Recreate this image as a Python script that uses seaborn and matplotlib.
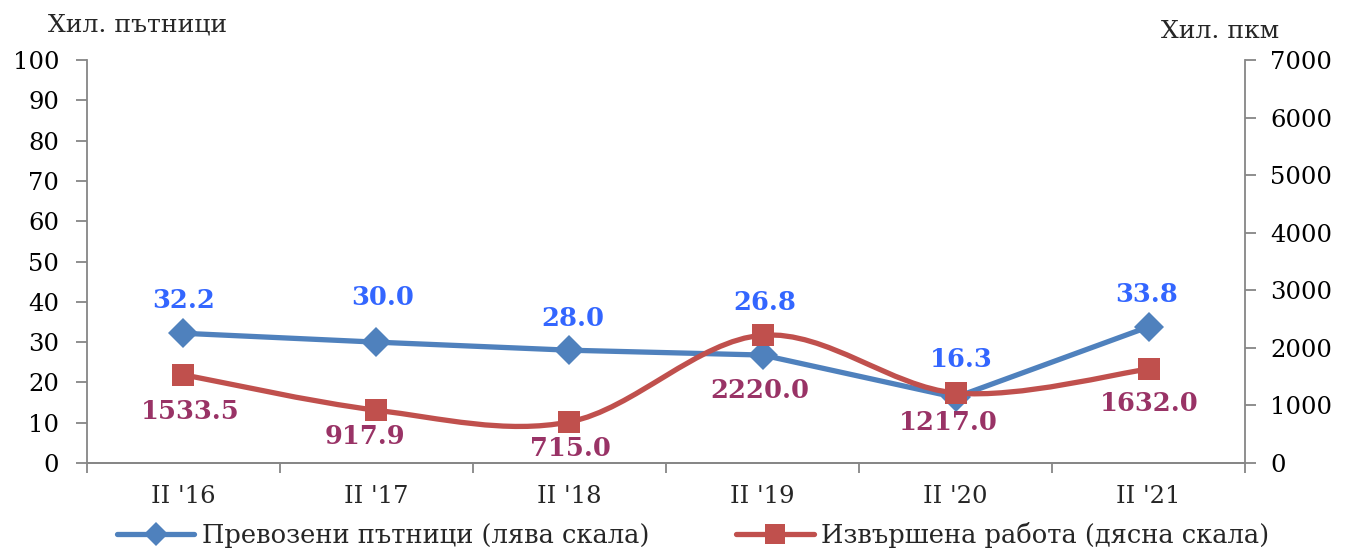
import matplotlib
matplotlib.use("Agg")
import matplotlib.pyplot as plt
import numpy as np
import pandas as pd
import seaborn as sns
from matplotlib.path import Path
from matplotlib.patches import PathPatch
from matplotlib.lines import Line2D

# data
periods = ["II '16", "II '17", "II '18", "II '19", "II '20", "II '21"]
passengers = [32.2, 30.0, 28.0, 26.8, 16.3, 33.8]          # left scale, thousands
passenger_km = [1533.5, 917.9, 715.0, 2220.0, 1217.0, 1632.0]  # right scale, thousand pkm

left_title = "Хил. пътници"
right_title = "Хил. пкм"
label_left = "Превозени пътници (лява скала)"
label_right = "Извършена работа (дясна скала)"

# label offsets in pixels (dx, dy)
blue_off = [(0, 33), (6, 45), (3, 32), (2, 53), (6, 38), (-2, 32)]
red_off = [(7, -37), (-12, -26), (1, -27), (-3, -55), (-7, -30), (1, -34)]

BLUE = "#4F81BD"
RED = "#C0504D"
BLUE_TXT = "#3366FF"
RED_TXT = "#993366"
GREY = "#868686"

sns.set_theme(style="white")
plt.rcParams["font.family"] = ["DejaVu Serif"]

df = pd.DataFrame({"period": periods, "pos": np.arange(len(periods)),
                   "passengers": passengers, "pkm": passenger_km})

fig = plt.figure(figsize=(13.46, 5.48), dpi=100)
ax = fig.add_axes([0.0646, 0.155, 0.8604, 0.7355])
ax2 = ax.twinx()

sns.lineplot(data=df, x="pos", y="passengers", ax=ax, color=BLUE, lw=3.8,
             marker="D", markersize=15, markeredgewidth=0, zorder=3)

# smooth red curve (Excel style bezier through the points)
xs = df["pos"].to_numpy(float)
ys = df["pkm"].to_numpy(float)
verts = [(xs[0], ys[0])]
codes = [Path.MOVETO]
n = len(xs)
for i in range(n - 1):
    p0 = np.array([xs[max(i - 1, 0)], ys[max(i - 1, 0)]])
    p1 = np.array([xs[i], ys[i]])
    p2 = np.array([xs[i + 1], ys[i + 1]])
    p3 = np.array([xs[min(i + 2, n - 1)], ys[min(i + 2, n - 1)]])
    c1 = p1 + (p2 - p0) / 6
    c2 = p2 - (p3 - p1) / 6
    verts += [tuple(c1), tuple(c2), tuple(p2)]
    codes += [Path.CURVE4] * 3
ax2.add_patch(PathPatch(Path(verts, codes), fc="none", ec=RED, lw=3.8,
                        capstyle="round", zorder=4))
sns.scatterplot(data=df, x="pos", y="pkm", ax=ax2, color=RED, marker="s",
                s=270, linewidth=0, zorder=5)

for i, v in enumerate(passengers):
    ax.annotate(f"{v:.1f}", (i, v), xytext=blue_off[i], textcoords="offset pixels",
                ha="center", va="center", color=BLUE_TXT, fontsize=18.5,
                fontweight="bold", zorder=6)
for i, v in enumerate(passenger_km):
    ax2.annotate(f"{v:.1f}", (i, v), xytext=red_off[i], textcoords="offset pixels",
                 ha="center", va="center", color=RED_TXT, fontsize=18.5,
                 fontweight="bold", zorder=6)

ax.set_xlim(-0.5, len(periods) - 0.5)
ax.set_ylim(0, 100)
ax2.set_ylim(0, 7000)
ax.set_yticks(np.arange(0, 101, 10))
ax2.set_yticks(np.arange(0, 7001, 1000))
ax.set_xticks(np.arange(len(periods)))
ax.set_xticklabels(periods)
ax.set_xticks(np.arange(len(periods) + 1) - 0.5, minor=True)
ax.set_xlabel("")
ax.set_ylabel("")
ax2.set_ylabel("")

for a in (ax, ax2):
    a.spines["top"].set_visible(False)
    for s in a.spines.values():
        s.set_color(GREY)
        s.set_linewidth(1.3)
    a.tick_params(axis="y", labelsize=17.5, colors=GREY, labelcolor="black",
                  length=8, width=1.3, direction="out", pad=12)
ax.spines["right"].set_visible(False)
ax2.spines["left"].set_visible(False)
ax.tick_params(axis="y", left=True)
ax2.tick_params(axis="y", right=True, pad=10)
ax.tick_params(axis="x", which="major", length=0, labelsize=17.5, pad=16)
ax.tick_params(axis="x", which="minor", bottom=True, length=7, width=1.3,
               color=GREY, direction="out")
ax.grid(False)
ax2.grid(False)

fig.text(48 / 1346, 1 - 25 / 548, left_title, fontsize=18, ha="left", va="center")
fig.text(1220 / 1346, 1 - 31 / 548, right_title, fontsize=18, ha="center", va="center")

handles = [Line2D([], [], color=BLUE, lw=3.8, marker="D", markersize=12, markeredgewidth=0),
           Line2D([], [], color=RED, lw=3.8, marker="s", markersize=15, markeredgewidth=0)]
fig.legend(handles, [label_left, label_right], loc="center", ncol=2,
           bbox_to_anchor=(0.515, 1 - 535 / 548), frameon=False, fontsize=18.5,
           handlelength=3.0, handletextpad=0.3, columnspacing=3.4)

fig.savefig("out.png", dpi=100)
